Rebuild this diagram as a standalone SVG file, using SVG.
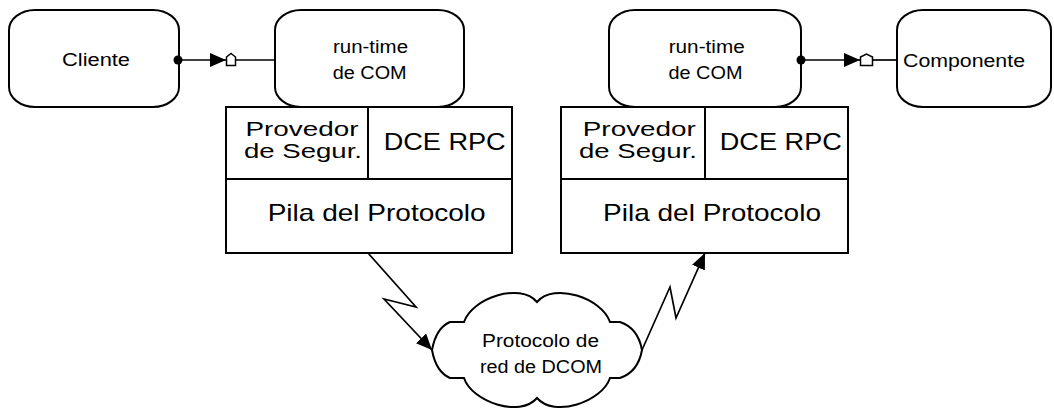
<svg xmlns="http://www.w3.org/2000/svg" width="1054" height="412" viewBox="0 0 1054 412">
<style>
.box{fill:#fff;stroke:#000;stroke-width:2}
.ln{fill:none;stroke:#000;stroke-width:1.7}
.t{font-family:"Liberation Sans",Arial,sans-serif;fill:#000;text-anchor:middle}
.s{font-size:18px}
.m{font-size:20px}
.l{font-size:24px}
.plug{fill:#fff;stroke:#000;stroke-width:1.5}
</style>
<defs>
<marker id="ah" viewBox="0 0 16 14" refX="16" refY="7" markerWidth="16" markerHeight="14" markerUnits="userSpaceOnUse" orient="auto">
<path d="M0,0 L16,7 L0,14 z" fill="#000"/>
</marker>
</defs>
<rect width="1054" height="412" fill="#fff"/>

<g id="cliente">
<rect class="box" x="9" y="10" width="170" height="97" rx="26" ry="20"/>
<text class="t s" x="96" y="66" textLength="68" lengthAdjust="spacingAndGlyphs">Cliente</text>
</g>

<g id="runtime1">
<rect class="box" x="275" y="10" width="189" height="97" rx="26" ry="20"/>
<text class="t s" x="370.5" y="53" textLength="75" lengthAdjust="spacingAndGlyphs">run-time</text>
<text class="t s" x="369.7" y="79" textLength="74" lengthAdjust="spacingAndGlyphs">de COM</text>
</g>

<g id="stack1">
<rect class="box" x="226" y="107" width="286" height="146"/>
<line class="box" x1="226" y1="179" x2="512" y2="179"/>
<line class="box" x1="368" y1="107" x2="368" y2="179"/>
<text class="t m" x="302" y="136" textLength="113" lengthAdjust="spacingAndGlyphs">Provedor</text>
<text class="t m" x="303" y="158" textLength="118" lengthAdjust="spacingAndGlyphs">de Segur.</text>
<text class="t l" x="444.7" y="150" textLength="122" lengthAdjust="spacingAndGlyphs">DCE RPC</text>
<text class="t l" x="376.7" y="221" textLength="218" lengthAdjust="spacingAndGlyphs">Pila del Protocolo</text>
</g>

<g id="runtime2">
<rect class="box" x="609" y="10" width="192" height="97" rx="26" ry="20"/>
<text class="t s" x="706.7" y="53" textLength="76" lengthAdjust="spacingAndGlyphs">run-time</text>
<text class="t s" x="705.5" y="79" textLength="74" lengthAdjust="spacingAndGlyphs">de COM</text>
</g>

<g id="stack2">
<rect class="box" x="561" y="107" width="287" height="146"/>
<line class="box" x1="561" y1="179" x2="848" y2="179"/>
<line class="box" x1="705" y1="107" x2="705" y2="179"/>
<text class="t m" x="639.3" y="136" textLength="113" lengthAdjust="spacingAndGlyphs">Provedor</text>
<text class="t m" x="638" y="158" textLength="118" lengthAdjust="spacingAndGlyphs">de Segur.</text>
<text class="t l" x="780.8" y="150" textLength="122" lengthAdjust="spacingAndGlyphs">DCE RPC</text>
<text class="t l" x="712" y="221" textLength="218" lengthAdjust="spacingAndGlyphs">Pila del Protocolo</text>
</g>

<g id="componente">
<rect class="box" x="897" y="10" width="154" height="97" rx="26" ry="20"/>
<text class="t s" x="964" y="67" textLength="122" lengthAdjust="spacingAndGlyphs">Componente</text>
</g>

<g id="cloud">
<path class="box" d="M432,350 Q436,328 450,322 L464,322 C472,298 520,282 537,302 C554,282 602,298 610,322 L620,322 Q638,328 642,350 Q638,372 620,378 L610,378 C602,402 554,418 537,398 C520,418 472,402 464,378 L450,378 Q436,372 432,350 Z"/>
<text class="t s" x="540.5" y="347" textLength="117" lengthAdjust="spacingAndGlyphs">Protocolo de</text>
<text class="t s" x="541" y="373" textLength="122" lengthAdjust="spacingAndGlyphs">red de DCOM</text>
</g>

<g id="connectors">
<line class="ln" x1="178" y1="60" x2="226" y2="60" marker-end="url(#ah)"/>
<circle cx="178" cy="60" r="4.5" fill="#000"/>
<line class="ln" x1="236" y1="60" x2="275" y2="60"/>
<polygon class="plug" points="226.5,57 231,53.5 235.5,57 235.5,65.5 226.5,65.5"/>

<line class="ln" x1="801" y1="60" x2="860" y2="60" marker-end="url(#ah)"/>
<circle cx="801" cy="60" r="4.5" fill="#000"/>
<line class="ln" x1="873" y1="60" x2="897" y2="60"/>
<polygon class="plug" points="860.5,57 866.5,54 872.5,57 872.5,65.5 860.5,65.5"/>

<polyline class="ln" points="368,253 416,307 384,299 432,350" marker-end="url(#ah)"/>
<polyline class="ln" points="642,350 670,287 676,318 705,253" marker-end="url(#ah)"/>
</g>
</svg>
